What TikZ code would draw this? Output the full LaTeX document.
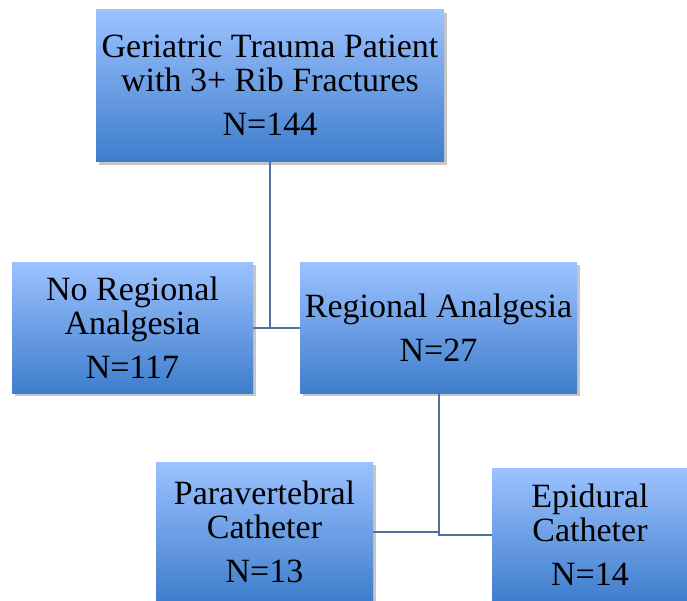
\documentclass[tikz,border=0pt]{standalone}
\usepackage{fontspec}
\setmainfont{Liberation Serif}
\usetikzlibrary{shadows}
\definecolor{boxtop}{RGB}{156,194,255}
\definecolor{boxbot}{RGB}{62,125,204}
\definecolor{linkblue}{RGB}{79,112,160}

\begin{document}
\begin{tikzpicture}[x=1pt,y=-1pt,
	box/.style={rectangle,top color=boxtop,bottom color=boxbot,align=center,
		inner sep=0pt,font=\fontsize{34}{34}\selectfont,
		drop shadow={opacity=0.45,shadow xshift=3pt,shadow yshift=-3pt}},
	link/.style={linkblue,line width=2pt}]
	\useasboundingbox (0,0) rectangle (687,600);

	%patients
	\node[box,minimum width=348pt,minimum height=152pt](geri) at (270,85.5)
	{Geriatric Trauma Patient\\with 3+ Rib Fractures\\[10pt]N=144};

	%first split
	\node[box,minimum width=241pt,minimum height=131pt](noreg) at (132.5,327.5)
	{No Regional\\Analgesia\\[10pt]N=117};
	\node[box,minimum width=277pt,minimum height=131pt](reg) at (438.5,327.5)
	{Regional Analgesia\\[10pt]N=27};

	%second split
	\node[box,minimum width=217pt,minimum height=140pt](para) at (264.5,532)
	{Paravertebral\\Catheter\\[10pt]N=13};
	\node[box,minimum width=196pt,minimum height=134pt](epi) at (590,535)
	{Epidural\\Catheter\\[10pt]N=14};

	%links
	\draw[link] (geri.south) |- (noreg.east);
	\draw[link] (geri.south) |- (reg.west);
	\draw[link] (reg.south) |- (para.east);
	\draw[link] (reg.south) |- (epi.west);
\end{tikzpicture}
\end{document}
